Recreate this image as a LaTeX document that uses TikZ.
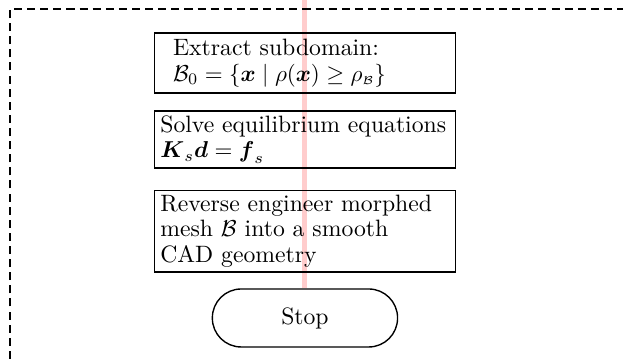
\documentclass[tikz,border=0pt]{standalone}
\usepackage{amsmath}
\usetikzlibrary{backgrounds}

\begin{document}
\begin{tikzpicture}[semithick, font=\fontsize{10.3pt}{11pt}\selectfont,
  stepbox/.style={draw, rectangle, minimum width=4.6cm, text width=4.42cm,
    align=left, inner xsep=2.5pt, inner ysep=2pt},
  stopbox/.style={draw, rectangle, rounded corners=0.44cm, fill=white,
    minimum width=2.83cm, minimum height=0.886cm}]
  \useasboundingbox (0,0) rectangle (9.52,5.486);
  % dashed frame, runs off the page to the right and below
  \draw[dash pattern=on 3.5pt off 2.2pt, line width=0.9pt]
    (0.153,-1) -- (0.153,5.349) -- (10,5.349);
  \node[stepbox, minimum height=0.92cm, text width=4.03cm] (extract) at (4.66,4.523)
    {Extract subdomain:\\
     $\mathcal{B}_0=\{\boldsymbol{x}\mid\rho(\boldsymbol{x})\geq\rho_{\scriptscriptstyle\mathcal{B}}\}$};
  \node[stepbox] (solve) at (4.66,3.353)
    {Solve equilibrium equations\\
     $\boldsymbol{K}_s\boldsymbol{d}=\boldsymbol{f}_s$};
  \node[stepbox, minimum height=1.25cm] (cad) at (4.66,1.954)
    {Reverse engineer morphed\\ mesh $\mathcal{B}$ into a smooth\\ CAD geometry};
  \node[stopbox] (stop) at (4.66,0.627) {Stop};
  \coordinate (top) at (4.66,5.486);
  % flow line behind the boxes
  \begin{scope}[on background layer]
    \draw[red!20, line width=2.2pt] (top) -- (stop);
  \end{scope}
\end{tikzpicture}
\end{document}
